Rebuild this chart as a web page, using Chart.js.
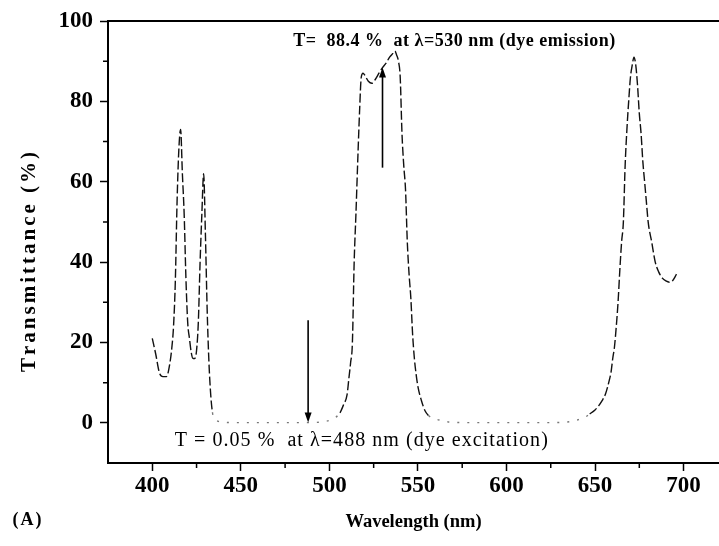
<!DOCTYPE html>
<html>
<head>
<meta charset="utf-8">
<title>Filter transmittance</title>
<script src="https://cdn.jsdelivr.net/npm/chart.js@4.4.1/dist/chart.umd.min.js"></script>
<style>
    html, body { margin: 0; padding: 0; background: #fff; overflow: hidden; }
    #wrap { width: 719px; height: 546px; }
</style>
</head>
<body>
<div id="wrap"><canvas id="spectrum" width="719" height="546"></canvas></div>
<script>
/* ---------- data ---------- */

const wavelength = [
    400, 402, 404, 406, 408, 410, 411, 412, 413, 414, 415, 416, 417, 418, 419, 420,
    421, 422, 423, 424, 425, 426, 427, 428, 429, 430, 431, 432, 433, 434, 435, 437,
    440, 450, 460, 470, 480, 488, 495, 500, 503, 506, 508, 510, 511, 512, 513, 514,
    515, 516, 517, 518, 519, 520, 522, 524, 526, 528, 530, 532, 534, 536, 537, 538,
    539, 540, 541, 542, 543, 544, 545, 546, 547, 548, 549, 550, 552, 554, 556, 558,
    560, 563, 566, 570, 580, 600, 620, 630, 636, 640, 644, 647, 650, 652, 654, 656,
    658, 659, 660, 661, 662, 663, 664, 665, 666, 667, 668, 669, 670, 671, 672, 673,
    674, 675, 676, 677, 678, 679, 680, 682, 684, 686, 688, 690, 692, 694, 696
];

const transmittance = [
    21, 17, 12.5, 11.5, 11.5, 15, 18.5, 24, 35, 55, 68, 73, 62, 52, 36, 25,
    21, 17.5, 16, 16, 18, 25, 40, 52, 62, 47, 28, 15, 7, 2.5, 1, 0.4,
    0.1, 0.05, 0.05, 0.05, 0.05, 0.05, 0.2, 0.6, 1.2, 2.5, 4.5, 7, 11, 15, 20, 40,
    52, 65, 77, 86, 87, 86.5, 85, 84.5, 85.5, 87, 88.4, 89.5, 91, 92, 92.5, 91.5,
    90, 86, 72, 64, 58, 45, 37, 31, 22, 16, 12, 9, 5.5, 3, 1.8, 1.2,
    0.9, 0.6, 0.3, 0.1, 0.05, 0.05, 0.05, 0.1, 0.3, 0.7, 1.3, 2.2, 3.2, 4.2, 5.5, 7.3,
    10.5, 12.5, 16, 19, 24, 30, 38, 45, 50, 64, 73, 80, 86, 89, 91, 89,
    84, 77, 72, 65, 60, 55, 50, 45, 40, 37.5, 36, 35.3, 35, 35.5, 37
];

const xTicks = [400, 450, 500, 550, 600, 650, 700];
const xMinorTicks = [425, 475, 525, 575, 625, 675];
const yTicks = [0, 20, 40, 60, 80, 100];
const yMinorTicks = [10, 30, 50, 70, 90];

// dye lines: where the arrow points, where its tail starts, and the note
const markWavelength = [488, 530];
const markValue = [0.05, 88.4];
const markTail = [25.5, 63.5];
const markText = [
    'T = 0.05 %  at \u03BB=488 nm (dye excitation)',
    'T=  88.4 %  at \u03BB=530 nm (dye emission)'
];

/* ---------- drawing helpers ---------- */

const SERIF = '"Liberation Serif", "Times New Roman", serif';

function arrowHead(ctx, x, yTip, dir) {
    // dir = 1 points down, -1 points up
    ctx.beginPath();
    ctx.moveTo(x, yTip);
    ctx.lineTo(x - 3.5, yTip - dir * 10);
    ctx.lineTo(x + 3.5, yTip - dir * 10);
    ctx.closePath();
    ctx.fill();
}

// draws text centred on (cx, cy) with extra room between letters
function spacedText(ctx, text, cx, cy, spacing) {
    const chars = Array.from(text);
    const widths = chars.map(ch => ctx.measureText(ch).width);
    const total = widths.reduce((a, b) => a + b, 0) + spacing * (chars.length - 1);
    let px = cx - total / 2;
    ctx.textAlign = 'left';
    ctx.textBaseline = 'middle';
    chars.forEach((ch, i) => {
        ctx.fillText(ch, px, cy);
        px += widths[i] + spacing;
    });
}

// the trace is faint where it sits on the baseline and darker on the edges
function isFlat(c) {
    return c.p0.parsed.y < 3 && c.p1.parsed.y < 3;
}

const framePlugin = {
    id: 'frame',
    afterDraw(chart) {
        const { ctx, chartArea, scales } = chart;
        const x = scales.x, y = scales.y;
        ctx.save();
        ctx.strokeStyle = '#000';
        ctx.fillStyle = '#000';

        // top edge of the box
        ctx.lineWidth = 2;
        ctx.beginPath();
        ctx.moveTo(chartArea.left - 1, chartArea.top);
        ctx.lineTo(chartArea.right, chartArea.top);
        ctx.stroke();

        // minor ticks
        ctx.lineWidth = 1.5;
        ctx.beginPath();
        xMinorTicks.forEach(v => {
            const px = x.getPixelForValue(v);
            ctx.moveTo(px, chartArea.bottom);
            ctx.lineTo(px, chartArea.bottom + 5);
        });
        yMinorTicks.forEach(v => {
            const py = y.getPixelForValue(v);
            ctx.moveTo(chartArea.left, py);
            ctx.lineTo(chartArea.left - 5, py);
        });
        ctx.stroke();

        // arrows to the dye lines
        ctx.lineWidth = 1.6;
        markWavelength.forEach((w, i) => {
            const px = x.getPixelForValue(w);
            const tip = y.getPixelForValue(markValue[i]);
            const tail = y.getPixelForValue(markTail[i]);
            const dir = tip > tail ? 1 : -1;
            ctx.beginPath();
            ctx.moveTo(px, tail);
            ctx.lineTo(px, tip - dir * 6);
            ctx.stroke();
            arrowHead(ctx, px, tip, dir);
        });

        // notes
        ctx.font = '20px ' + SERIF;
        spacedText(ctx, markText[0], x.getPixelForValue(518), y.getPixelForValue(-4.5), 1.05);
        ctx.font = 'bold 18px ' + SERIF;
        spacedText(ctx, markText[1], x.getPixelForValue(570.5), y.getPixelForValue(95), 0.5);

        // y axis title
        ctx.save();
        ctx.translate(30, (chartArea.top + chartArea.bottom) / 2 + 20);
        ctx.rotate(-Math.PI / 2);
        ctx.font = 'bold 21px ' + SERIF;
        spacedText(ctx, 'Transmittance (%)', 0, 0, 3);
        ctx.restore();

        // panel letter
        ctx.font = 'bold 18px ' + SERIF;
        spacedText(ctx, '(A)', 27, 520, 2);
        ctx.restore();
    }
};

/* ---------- chart ---------- */

const points = wavelength.map((w, i) => ({ x: w, y: transmittance[i] }));

new Chart(document.getElementById('spectrum'), {
    type: 'line',
    data: {
        datasets: [{
            data: points,
            borderColor: '#111',
            borderWidth: 1.4,
            pointRadius: 0,
            cubicInterpolationMode: 'monotone',
            fill: false,
            segment: {
                borderDash: c => isFlat(c) ? [2, 8] : [9, 3],
                borderColor: c => isFlat(c) ? '#777' : '#111'
            }
        }]
    },
    options: {
        responsive: false,
        animation: false,
        devicePixelRatio: 1,
        layout: { padding: { top: 21, right: 0, bottom: 0, left: 0 } },
        plugins: {
            legend: { display: false },
            tooltip: { enabled: false }
        },
        scales: {
            x: {
                type: 'linear',
                min: 375,
                max: 720,
                afterBuildTicks: s => { s.ticks = xTicks.map(v => ({ value: v })); },
                afterFit: s => { s.height = 83; },
                border: { color: '#000', width: 2 },
                grid: {
                    drawOnChartArea: false,
                    color: '#000',
                    tickLength: 8,
                    tickWidth: 1.5
                },
                ticks: {
                    color: '#000',
                    padding: 1,
                    maxRotation: 0,
                    font: { family: SERIF, size: 23, weight: 'bold' }
                },
                title: {
                    display: true,
                    text: 'Wavelength (nm)',
                    color: '#000',
                    padding: { top: 0, bottom: 13 },
                    font: { family: SERIF, size: 18.5, weight: 'bold' }
                }
            },
            y: {
                min: -10,
                max: 100,
                afterBuildTicks: s => { s.ticks = yTicks.map(v => ({ value: v })); },
                afterFit: s => { s.width = 108; },
                border: { color: '#000', width: 2 },
                grid: {
                    drawOnChartArea: false,
                    color: '#000',
                    tickLength: 8,
                    tickWidth: 1.5
                },
                ticks: {
                    color: '#000',
                    padding: 7,
                    font: { family: SERIF, size: 23, weight: 'bold' }
                }
            }
        }
    },
    plugins: [framePlugin]
});
</script>
</body>
</html>
